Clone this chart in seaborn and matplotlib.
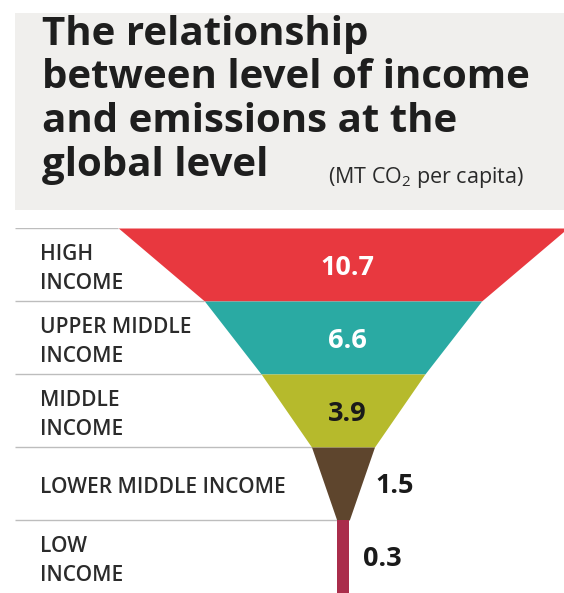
import matplotlib
matplotlib.use("Agg")
import matplotlib.pyplot as plt
import matplotlib.transforms as mtransforms
from matplotlib.patches import Rectangle
import seaborn as sns
import pandas as pd

# ---- data ----
categories = ["HIGH\nINCOME", "UPPER MIDDLE\nINCOME", "MIDDLE\nINCOME",
              "LOWER MIDDLE INCOME", "LOW\nINCOME"]
values = [10.7, 6.6, 3.9, 1.5, 0.3]
value_labels = ["10.7", "6.6", "3.9", "1.5", "0.3"]
colors = ["#e8383f", "#2aaaa3", "#b6ba2c", "#5e452d", "#aa2d4b"]
label_colors = ["#ffffff", "#ffffff", "#1a1a1a", "#1a1a1a", "#1a1a1a"]
title_lines = ["The relationship", "between level of income",
               "and emissions at the", "global level"]
subtitle = "(MT CO$_{\\mathregular{2}}$ per capita)"

df = pd.DataFrame({"category": categories, "value": values})

sns.set_theme(style="white")
plt.rcParams["font.family"] = ["Open Sans", "DejaVu Sans"]
plt.rcParams["mathtext.fontset"] = "custom"
plt.rcParams["mathtext.rm"] = "Open Sans"

W, H = 564, 593
fig = plt.figure(figsize=(W / 100, H / 100), dpi=100)
fig.patch.set_facecolor("white")

# grey title panel
fig.patches.append(Rectangle((15 / W, 1 - 210 / H), 549 / W, 197 / H,
                             transform=fig.transFigure, facecolor="#f0efed",
                             edgecolor="none", zorder=0))

baselines = [45, 88, 132, 176]
for line, b in zip(title_lines, baselines):
    fig.text(42 / W, 1 - b / H, line, fontsize=29, fontweight="bold",
             color="#1e1e1e", va="baseline", ha="left")
fig.text(328 / W, 1 - 183 / H, subtitle, fontsize=15.5, color="#2a2a2a",
         va="baseline", ha="left")

# funnel axes
ax = fig.add_axes([0, 0, 1, 365 / H])
px = 42.0
center = 343.0
ax.set_xlim(-center / px, (W - center) / px)
ax.set_ylim(len(values), 0)
ax.axis("off")

n = len(df)
for i, row in df.iterrows():
    top = row["value"]
    bot = df["value"].iloc[i + 1] if i + 1 < n else top
    ax.fill_betweenx([i, i + 1], [-top / 2, -bot / 2], [top / 2, bot / 2],
                     color=colors[i], linewidth=0, zorder=2)
    # separator line
    ax.hlines(i, (15 - center) / px, -top / 2, color="#bdbdbd",
              linewidth=1.0, zorder=1)

trans = mtransforms.blended_transform_factory(fig.transFigure, ax.transData)
for i, row in df.iterrows():
    ax.text(40 / W, i + 0.56, row["category"], transform=trans, fontsize=15,
            fontweight="semibold", color="#2b2b2b", ha="left", va="center",
            linespacing=1.5)
    top = row["value"]
    bot = df["value"].iloc[i + 1] if i + 1 < n else top
    if top >= 3:
        ax.text(0.1, i + 0.55, value_labels[i], fontsize=19.5,
                fontweight="bold", color=label_colors[i], ha="center",
                va="center", zorder=3)
    else:
        ax.text((top + bot) / 4 + 0.32, i + 0.53, value_labels[i],
                fontsize=19.5, fontweight="bold", color=label_colors[i],
                ha="left", va="center", zorder=3)

fig.savefig("out.png", dpi=100)
